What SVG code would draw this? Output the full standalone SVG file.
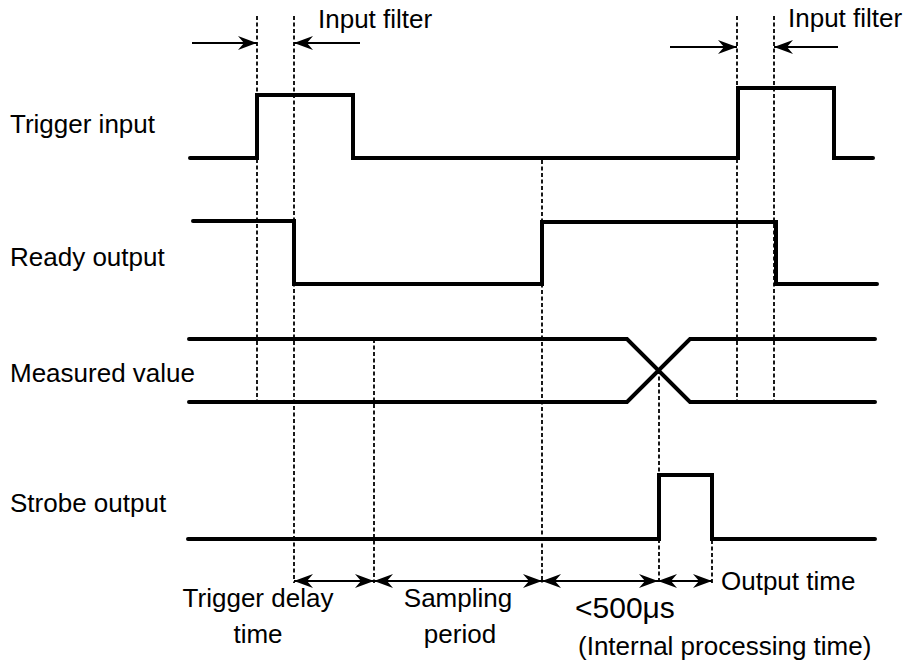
<svg xmlns="http://www.w3.org/2000/svg" width="905" height="661" viewBox="0 0 905 661">
<style>
  text { font-family: "Liberation Sans", Arial, sans-serif; font-size: 26px; fill: #000; }
  .sig { fill: none; stroke: #000; stroke-width: 4; stroke-linecap: round; stroke-linejoin: miter; }
  .guide { fill: none; stroke: #000; stroke-width: 1.8; stroke-dasharray: 4 2.5; }
  .arr { fill: none; stroke: #000; stroke-width: 2; }
</style>
<defs>
  <marker id="ah" viewBox="-20 -8 21 16" refX="0" refY="0" markerWidth="21" markerHeight="16" markerUnits="userSpaceOnUse" orient="auto-start-reverse">
    <path d="M0,0 L-19,-7 L-13,0 L-19,7 Z" fill="#000"/>
  </marker>
</defs>
<rect width="905" height="661" fill="#fff"/>

<g id="guides">
  <line class="guide" x1="257" y1="16" x2="257" y2="400"/>
  <line class="guide" x1="294" y1="16" x2="294" y2="583"/>
  <line class="guide" x1="374" y1="339" x2="374" y2="583"/>
  <line class="guide" x1="542" y1="160" x2="542" y2="583"/>
  <line class="guide" x1="659" y1="370" x2="659" y2="583"/>
  <line class="guide" x1="712" y1="540" x2="712" y2="583"/>
  <line class="guide" x1="737" y1="16" x2="737" y2="400"/>
  <line class="guide" x1="774" y1="16" x2="774" y2="400"/>
</g>

<g id="trigger-input">
  <text x="10" y="133">Trigger input</text>
  <path class="sig" d="M190,158 H257 V95 H353 V158 H738 V88 H834 V158 H873"/>
</g>

<g id="ready-output">
  <text x="10" y="266">Ready output</text>
  <path class="sig" d="M193,221 H294 V284 H542 V222 H776 V284 H877"/>
</g>

<g id="measured-value">
  <text x="10" y="382">Measured value</text>
  <path class="sig" d="M189,339 H627 L690,402 H875"/>
  <path class="sig" d="M189,402 H627 L690,339 H875"/>
</g>

<g id="strobe-output">
  <text x="10" y="512">Strobe output</text>
  <path class="sig" d="M188,539 H659 V475 H712 V539 H875"/>
</g>

<g id="connectors">
  <line class="arr" x1="192" y1="43" x2="257" y2="43" marker-end="url(#ah)"/>
  <line class="arr" x1="360" y1="43" x2="294" y2="43" marker-end="url(#ah)"/>
  <line class="arr" x1="670" y1="47" x2="737" y2="47" marker-end="url(#ah)"/>
  <line class="arr" x1="838" y1="47" x2="774" y2="47" marker-end="url(#ah)"/>
  <line class="arr" x1="294" y1="581" x2="374" y2="581" marker-start="url(#ah)" marker-end="url(#ah)"/>
  <line class="arr" x1="374" y1="581" x2="542" y2="581" marker-start="url(#ah)" marker-end="url(#ah)"/>
  <line class="arr" x1="542" y1="581" x2="658" y2="581" marker-start="url(#ah)" marker-end="url(#ah)"/>
  <line class="arr" x1="658" y1="581" x2="712" y2="581" marker-start="url(#ah)" marker-end="url(#ah)"/>
</g>

<g id="labels">
  <text x="318" y="28">Input filter</text>
  <text x="788" y="27">Input filter</text>
  <text x="258" y="607" text-anchor="middle">Trigger delay</text>
  <text x="258" y="643" text-anchor="middle">time</text>
  <text x="458" y="607" text-anchor="middle">Sampling</text>
  <text x="460" y="643" text-anchor="middle">period</text>
  <text x="575" y="618" style="font-size:30px">&lt;500μs</text>
  <text x="721" y="590">Output time</text>
  <text x="578" y="655">(Internal processing time)</text>
</g>
</svg>
